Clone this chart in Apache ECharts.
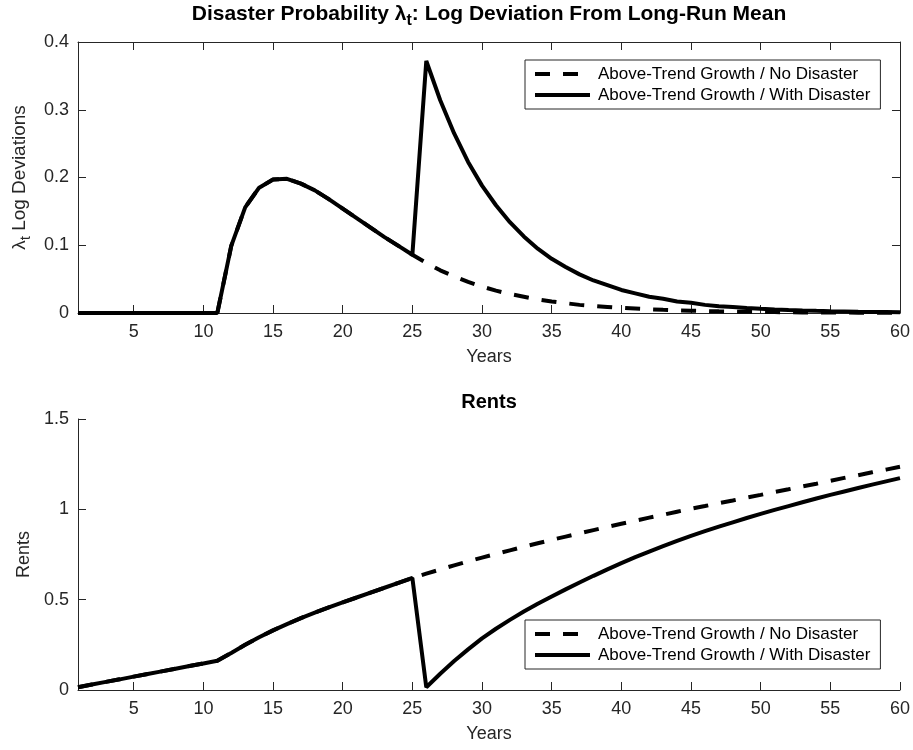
<!DOCTYPE html>
<html>
<head>
<meta charset="utf-8">
<script src="https://cdn.jsdelivr.net/npm/echarts@6/dist/echarts.min.js"></script>
<style>
  html, body { margin: 0; padding: 0; background: #fff; }
  #chart { width: 913px; height: 750px; }
</style>
</head>
<body>
<div id="chart"></div>
<script>
// Horizon in years
const years = [
  1, 2, 3, 4, 5, 6, 7, 8, 9, 10, 11, 12, 13, 14, 15, 16, 17, 18, 19, 20,
  21, 22, 23, 24, 25, 26, 27, 28, 29, 30, 31, 32, 33, 34, 35, 36, 37, 38, 39, 40,
  41, 42, 43, 44, 45, 46, 47, 48, 49, 50, 51, 52, 53, 54, 55, 56, 57, 58, 59, 60
];
const xTickValues = [5, 10, 15, 20, 25, 30, 35, 40, 45, 50, 55, 60];

const nameNoDisaster = 'Above-Trend Growth / No Disaster';
const nameWithDisaster = 'Above-Trend Growth / With Disaster';

// Disaster probability, log deviation from long-run mean
const lambdaNoDisaster = [
  0, 0, 0, 0, 0, 0, 0, 0, 0, 0,
  0, 0.099, 0.156, 0.185, 0.197, 0.198, 0.191, 0.181, 0.168, 0.154,
  0.140, 0.126, 0.112, 0.099, 0.086, 0.074, 0.063, 0.054, 0.046, 0.039,
  0.033, 0.028, 0.024, 0.020, 0.017, 0.0145, 0.012, 0.0105, 0.009, 0.0075,
  0.0065, 0.0055, 0.0047, 0.004, 0.0034, 0.0029, 0.0024, 0.0021, 0.0018, 0.0015,
  0.0013, 0.0011, 0.0009, 0.0008, 0.0007, 0.0006, 0.0005, 0.0004, 0.0004, 0.0003
];
const lambdaWithDisaster = [
  0, 0, 0, 0, 0, 0, 0, 0, 0, 0,
  0, 0.099, 0.156, 0.185, 0.197, 0.198, 0.191, 0.181, 0.168, 0.154,
  0.140, 0.126, 0.112, 0.099, 0.086, 0.372, 0.314, 0.265, 0.223, 0.188,
  0.159, 0.134, 0.113, 0.095, 0.080, 0.068, 0.057, 0.048, 0.041, 0.034,
  0.029, 0.024, 0.021, 0.017, 0.015, 0.012, 0.010, 0.009, 0.0075, 0.0063,
  0.0053, 0.0045, 0.0038, 0.0032, 0.0027, 0.0023, 0.0019, 0.0016, 0.0014, 0.0012
];

// Rents
const rentsNoDisaster = [
  0.015, 0.030, 0.045, 0.059, 0.074, 0.089, 0.103, 0.118, 0.133, 0.147,
  0.162, 0.205, 0.250, 0.292, 0.330, 0.365, 0.398, 0.428, 0.457, 0.485,
  0.512, 0.539, 0.566, 0.593, 0.620, 0.644, 0.667, 0.690, 0.712, 0.733,
  0.753, 0.773, 0.793, 0.812, 0.831, 0.849, 0.867, 0.885, 0.903, 0.920,
  0.937, 0.954, 0.970, 0.987, 1.003, 1.018, 1.034, 1.049, 1.065, 1.080,
  1.096, 1.111, 1.127, 1.142, 1.158, 1.174, 1.189, 1.205, 1.220, 1.236
];
const rentsWithDisaster = [
  0.015, 0.030, 0.045, 0.059, 0.074, 0.089, 0.103, 0.118, 0.133, 0.147,
  0.162, 0.205, 0.250, 0.292, 0.330, 0.365, 0.398, 0.428, 0.457, 0.485,
  0.512, 0.539, 0.566, 0.593, 0.620, 0.015, 0.090, 0.160, 0.225, 0.286,
  0.339, 0.388, 0.434, 0.477, 0.517, 0.557, 0.595, 0.632, 0.668, 0.702,
  0.735, 0.766, 0.796, 0.825, 0.853, 0.879, 0.904, 0.928, 0.952, 0.975,
  0.997, 1.018, 1.039, 1.060, 1.080, 1.099, 1.118, 1.137, 1.155, 1.173
];

const FONT = '"Liberation Sans", Arial, Helvetica, sans-serif';
const AXIS_COLOR = '#262626';
const LINE_W = 4;
const DASH = [15, 13];
const TICK_FS = 18;

function pairs(xs, ys) { return xs.map((x, i) => [x, ys[i]]); }

const chart = echarts.init(document.getElementById('chart'), null, { renderer: 'canvas' });

const axisLine = { show: true, onZero: false, lineStyle: { color: AXIS_COLOR, width: 1 } };
const tickStyle = { color: AXIS_COLOR, width: 1 };
const labelStyle = { color: AXIS_COLOR, fontSize: TICK_FS, fontFamily: FONT };

function bottomX(gridIndex) {
  return {
    type: 'value', gridIndex, min: 1, max: 60, position: 'bottom',
    axisLine,
    axisTick: { show: true, inside: true, length: 8, lineStyle: tickStyle, customValues: xTickValues },
    axisLabel: Object.assign({ margin: 10, customValues: xTickValues }, labelStyle),
    splitLine: { show: false },
    name: 'Years', nameLocation: 'middle', nameGap: 35,
    nameTextStyle: { color: AXIS_COLOR, fontSize: 18, fontFamily: FONT }
  };
}

function legendAt(top) {
  return {
    data: [nameNoDisaster, nameWithDisaster],
    orient: 'vertical', left: 525, top,
    itemWidth: 55, itemHeight: 14, itemGap: 1,
    padding: [4, 10, 4, 8],
    borderColor: AXIS_COLOR, borderWidth: 1, backgroundColor: '#fff',
    itemStyle: { opacity: 0 },
    lineStyle: { width: LINE_W },
    textStyle: { color: '#000', fontSize: 17, fontFamily: FONT, lineHeight: 20, padding: [0, 0, 0, 3] },
    selectedMode: false
  };
}

const option = {
  animation: false,
  backgroundColor: '#fff',
  grid: [
    { left: 78, top: 42, width: 822, height: 271 },
    { left: 78, top: 419, width: 822, height: 271 }
  ],
  xAxis: [
    bottomX(0),
    {
      type: 'value', gridIndex: 0, min: 1, max: 60, position: 'top',
      axisLine,
      axisTick: { show: true, inside: true, length: 8, lineStyle: tickStyle, customValues: xTickValues },
      axisLabel: { show: false },
      splitLine: { show: false }
    },
    bottomX(1)
  ],
  yAxis: [
    {
      type: 'value', gridIndex: 0, min: 0, max: 0.4, interval: 0.1, position: 'left',
      axisLine,
      axisTick: { show: true, inside: true, length: 8, lineStyle: tickStyle },
      axisLabel: Object.assign({ margin: 9 }, labelStyle),
      splitLine: { show: false },
      name: '{l|λ}{s|t}{n| Log Deviations}', nameLocation: 'middle', nameGap: 44,
      nameTextStyle: {
        color: AXIS_COLOR, fontFamily: FONT,
        rich: {
          l: { fontSize: 19, fontFamily: FONT, color: AXIS_COLOR },
          s: { fontSize: 15, fontFamily: FONT, color: AXIS_COLOR, padding: [11, 0, 0, 0] },
          n: { fontSize: 19, fontFamily: FONT, color: AXIS_COLOR }
        }
      }
    },
    {
      type: 'value', gridIndex: 0, min: 0, max: 0.4, interval: 0.1, position: 'right',
      axisLine,
      axisTick: { show: true, inside: true, length: 8, lineStyle: tickStyle },
      axisLabel: { show: false },
      splitLine: { show: false }
    },
    {
      type: 'value', gridIndex: 1, min: 0, max: 1.5, interval: 0.5, position: 'left',
      axisLine,
      axisTick: { show: true, inside: true, length: 8, lineStyle: tickStyle },
      axisLabel: Object.assign({ margin: 9 }, labelStyle),
      splitLine: { show: false },
      name: 'Rents', nameLocation: 'middle', nameGap: 32,
      nameTextStyle: { color: AXIS_COLOR, fontSize: 18, fontFamily: FONT }
    }
  ],
  legend: [legendAt(60), legendAt(620)],
  graphic: [
    {
      type: 'text', x: 489, y: 14, z: 10,
      style: {
        text: '{b|Disaster Probability }{b|λ}{s|t}{b|: Log Deviation From Long-Run Mean}',
        align: 'center', verticalAlign: 'middle',
        rich: {
          b: { fontSize: 21, fontWeight: 'bold', fontFamily: FONT, fill: '#000' },
          s: { fontSize: 16, fontWeight: 'bold', fontFamily: FONT, fill: '#000', padding: [13, 0, 0, 0] }
        }
      }
    },
    {
      type: 'text', x: 489, y: 402, z: 10,
      style: {
        text: 'Rents', align: 'center', verticalAlign: 'middle',
        fontSize: 20, fontWeight: 'bold', fontFamily: FONT, fill: '#000'
      }
    }
  ],
  series: [
    {
      name: nameNoDisaster, type: 'line', xAxisIndex: 0, yAxisIndex: 0,
      data: pairs(years, lambdaNoDisaster), symbol: 'none', clip: false,
      lineStyle: { color: '#000', width: LINE_W, type: DASH, cap: 'butt' },
      itemStyle: { color: '#000' }, z: 3
    },
    {
      name: nameWithDisaster, type: 'line', xAxisIndex: 0, yAxisIndex: 0,
      data: pairs(years, lambdaWithDisaster), symbol: 'none', clip: false,
      lineStyle: { color: '#000', width: LINE_W, type: 'solid' },
      itemStyle: { color: '#000' }, z: 4
    },
    {
      name: nameNoDisaster, type: 'line', xAxisIndex: 2, yAxisIndex: 2,
      data: pairs(years, rentsNoDisaster), symbol: 'none', clip: false,
      lineStyle: { color: '#000', width: LINE_W, type: DASH, cap: 'butt' },
      itemStyle: { color: '#000' }, z: 3
    },
    {
      name: nameWithDisaster, type: 'line', xAxisIndex: 2, yAxisIndex: 2,
      data: pairs(years, rentsWithDisaster), symbol: 'none', clip: false,
      lineStyle: { color: '#000', width: LINE_W, type: 'solid' },
      itemStyle: { color: '#000' }, z: 4
    }
  ]
};

chart.setOption(option);
</script>
</body>
</html>
